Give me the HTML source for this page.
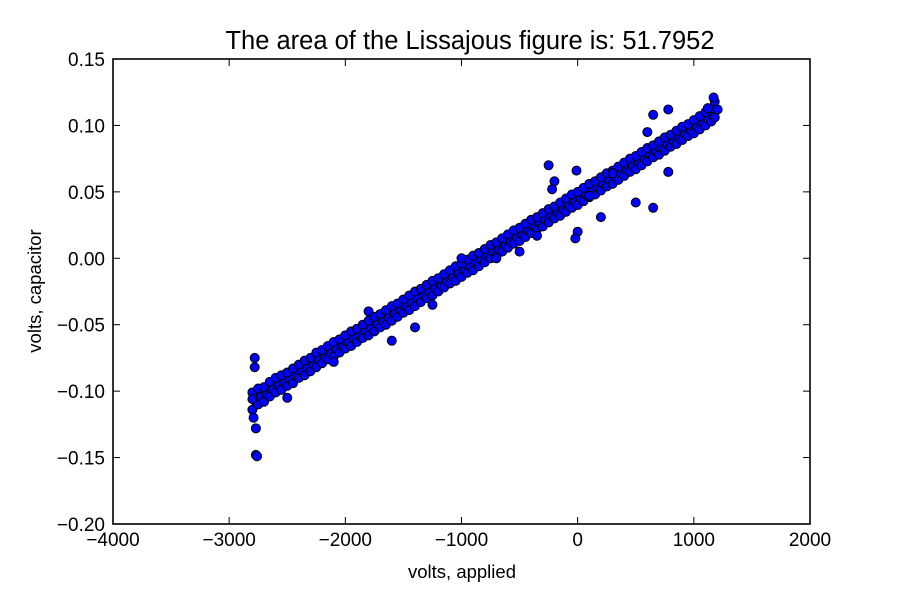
<!DOCTYPE html>
<html><head><meta charset="utf-8"><style>
body{margin:0;background:#fff;}
svg text{font-family:"Liberation Sans",Arial,sans-serif;fill:#000;}
</style></head><body>
<svg id="chart" width="900" height="600" xmlns="http://www.w3.org/2000/svg">
<rect width="900" height="600" fill="#fff"/>
<text x="470" y="49" font-size="25.5" text-anchor="middle">The area of the Lissajous figure is: 51.7952</text>
<text x="462" y="578" font-size="18.5" text-anchor="middle">volts, applied</text>
<text x="0" y="0" font-size="18.5" text-anchor="middle" transform="translate(41,291) rotate(-90)">volts, capacitor</text>
<g id="marks"></g>
<g id="axes"></g>
</svg>
<script>
const xVals=[-2800,-2750,-2700,-2650,-2600,-2550,-2500,-2450,-2400,-2350,-2300,-2250,-2200,-2150,-2100,-2050,-2000,-1950,-1900,-1850,-1800,-1750,-1700,-1650,-1600,-1550,-1500,-1450,-1400,-1350,-1300,-1250,-1200,-1150,-1100,-1050,-1000,-950,-900,-850,-800,-750,-700,-650,-600,-550,-500,-450,-400,-350,-300,-250,-200,-150,-100,-50,0,50,100,150,200,250,300,350,400,450,500,550,600,650,700,750,800,850,900,950,1000,1050,1100,1150,1180];
const yHigh=[-0.101,-0.098,-0.097,-0.093,-0.090,-0.088,-0.086,-0.083,-0.080,-0.077,-0.075,-0.071,-0.069,-0.066,-0.063,-0.061,-0.058,-0.055,-0.053,-0.050,-0.047,-0.044,-0.042,-0.039,-0.036,-0.034,-0.031,-0.028,-0.025,-0.023,-0.020,-0.017,-0.015,-0.012,-0.009,-0.006,-0.004,-0.001,0.002,0.004,0.007,0.010,0.012,0.015,0.018,0.021,0.023,0.026,0.029,0.031,0.034,0.037,0.039,0.042,0.045,0.048,0.050,0.053,0.056,0.058,0.061,0.064,0.066,0.069,0.072,0.075,0.077,0.080,0.083,0.085,0.088,0.091,0.093,0.096,0.099,0.101,0.104,0.107,0.110,0.113,0.118];
const yLow=[-0.114,-0.110,-0.108,-0.104,-0.101,-0.099,-0.096,-0.094,-0.090,-0.088,-0.085,-0.082,-0.079,-0.076,-0.074,-0.071,-0.068,-0.066,-0.063,-0.060,-0.058,-0.055,-0.052,-0.050,-0.047,-0.044,-0.041,-0.039,-0.036,-0.033,-0.030,-0.028,-0.025,-0.022,-0.019,-0.017,-0.014,-0.011,-0.009,-0.006,-0.003,0.000,0.002,0.005,0.008,0.011,0.013,0.016,0.019,0.022,0.024,0.027,0.030,0.032,0.035,0.038,0.040,0.043,0.046,0.048,0.051,0.054,0.056,0.059,0.062,0.065,0.067,0.070,0.073,0.076,0.078,0.081,0.084,0.086,0.089,0.092,0.094,0.097,0.100,0.103,0.106];
const outX=[-2780,-2780,-2770,-2760,-2770,-2790,-2800,-250,-200,-220,-10,0,-20,200,500,650,780,650,780,600,-1400,-1600,-2500,-1000,-500,100,300,1170,1120,-1800,-2100,-1250,-700,-350];
const outY=[-0.075,-0.082,-0.148,-0.149,-0.128,-0.120,-0.106,0.070,0.058,0.052,0.066,0.020,0.015,0.031,0.042,0.038,0.065,0.108,0.112,0.095,-0.052,-0.062,-0.105,0.000,0.005,0.047,0.064,0.121,0.113,-0.040,-0.078,-0.035,0.000,0.017];
const xTicks=[-4000,-3000,-2000,-1000,0,1000,2000];
const xTickLabels=["\u22124000","\u22123000","\u22122000","\u22121000","0","1000","2000"];
const yTicks=[-0.20,-0.15,-0.10,-0.05,0.00,0.05,0.10,0.15];
const yTickLabels=["\u22120.20","\u22120.15","\u22120.10","\u22120.05","0.00","0.05","0.10","0.15"];

const L=113,R=810,T=59,B=524;
const sx=v=>L+(v+4000)/6000*(R-L);
const sy=v=>B-(v+0.20)/0.35*(B-T);
const NS="http://www.w3.org/2000/svg";
const marks=document.getElementById('marks');
function dot(x,y){
  const c=document.createElementNS(NS,'circle');
  c.setAttribute('cx',sx(x));c.setAttribute('cy',sy(y));c.setAttribute('r',4.5);
  c.setAttribute('fill','#0000ff');c.setAttribute('stroke','#000');c.setAttribute('stroke-width','1');
  
  
  marks.appendChild(c);
}
for(let i=0;i<xVals.length;i++){
  dot(xVals[i],yLow[i]);
  dot(xVals[i]+25,(yHigh[i]+yLow[i])/2);
  dot(xVals[i],yHigh[i]);
}
for(let i=0;i<outX.length;i++) dot(outX[i],outY[i]);

const axes=document.getElementById('axes');
function el(tag,attrs){const e=document.createElementNS(NS,tag);for(const k in attrs)e.setAttribute(k,attrs[k]);axes.appendChild(e);return e;}
const frame=el('rect',{x:L,y:T,width:R-L,height:B-T,fill:'none',stroke:'#000','stroke-width':1.6});


xTicks.forEach((v,i)=>{
  const x=sx(v);
  el('line',{x1:x,y1:B,x2:x,y2:B-7,stroke:'#000'});
  el('line',{x1:x,y1:T,x2:x,y2:T+7,stroke:'#000'});
  const t=el('text',{x:x,y:B+22,'font-size':19,'text-anchor':'middle'});
  t.textContent=xTickLabels[i];
  
  
});
yTicks.forEach((v,i)=>{
  const y=sy(v);
  el('line',{x1:L,y1:y,x2:L+7,y2:y,stroke:'#000'});
  el('line',{x1:R,y1:y,x2:R-7,y2:y,stroke:'#000'});
  const t=el('text',{x:L-8,y:y+7,'font-size':19,'text-anchor':'end'});
  t.textContent=yTickLabels[i];
  
  
});
</script>
</body></html>
